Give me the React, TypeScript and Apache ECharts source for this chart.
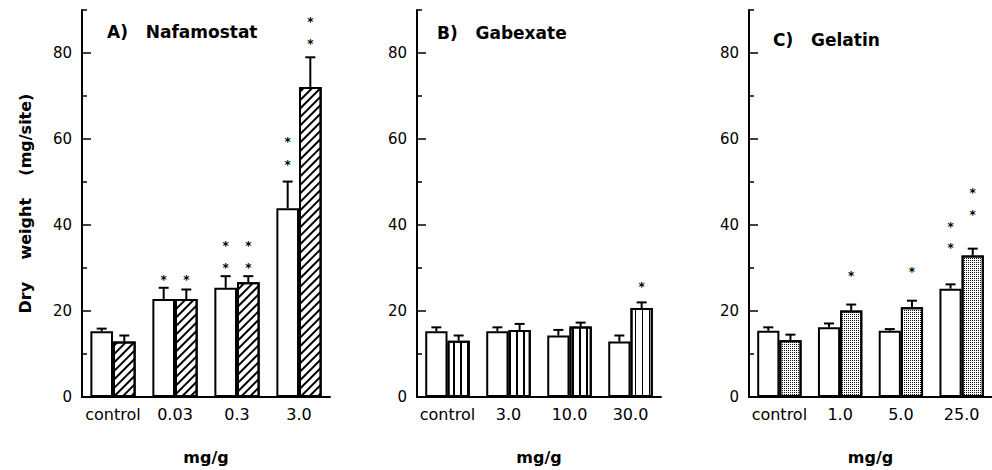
import React, { useEffect, useRef } from 'react';
import * as echarts from 'echarts';

// ---------- data ----------
const catsA = ['control', '0.03', '0.3', '3.0'];
const catsB = ['control', '3.0', '10.0', '30.0'];
const catsC = ['control', '1.0', '5.0', '25.0'];

const yTickValues = [0, 20, 40, 60, 80];
const yMinorTickValues = [10, 30, 50, 70, 90];

// A) Nafamostat
const nafaControl = [15.3, 22.8, 25.4, 43.9];
const nafaControlErr = [0.6, 2.6, 2.7, 6.2];
const nafaDrug = [12.9, 22.8, 26.7, 72.1];
const nafaDrugErr = [1.4, 2.2, 1.4, 6.9];
// [category index, bar index (0 = control, 1 = drug), value]
const nafaStars = [
  [1, 0, 27.8], [1, 1, 27.8],
  [2, 0, 35.9], [2, 0, 30.7], [2, 1, 35.9], [2, 1, 30.7],
  [3, 0, 60.0], [3, 0, 54.6], [3, 1, 88.0], [3, 1, 82.7],
];

// B) Gabexate
const gabeControl = [15.3, 15.3, 14.3, 12.9];
const gabeControlErr = [0.9, 0.9, 1.3, 1.4];
const gabeDrug = [13.1, 15.6, 16.4, 20.7];
const gabeDrugErr = [1.2, 1.4, 0.9, 1.3];
const gabeStars = [[3, 1, 26.3]];

// C) Gelatin
const gelaControl = [15.4, 16.2, 15.4, 25.2];
const gelaControlErr = [0.8, 0.9, 0.4, 1.0];
const gelaDrug = [13.2, 20.1, 20.9, 32.9];
const gelaDrugErr = [1.3, 1.4, 1.5, 1.6];
const gelaStars = [
  [1, 1, 28.9], [2, 1, 29.8],
  [3, 0, 40.3], [3, 0, 35.3], [3, 1, 48.2], [3, 1, 43.0],
];

const panelTitles = ['A)   Nafamostat', 'B)   Gabexate', 'C)   Gelatin'];
const xAxisTitle = 'mg/g';
const yAxisTitle = 'Dry    weight    (mg/site)';

// ---------- styling ----------
const FONT = 'DejaVu Sans';
const CAT_GAP = 0.27;

export default function App() {
  const ref = useRef<HTMLDivElement>(null);

  useEffect(() => {
    document.body.style.margin = '0';
    if (!ref.current) return;
    const chart = echarts.init(ref.current, undefined, { renderer: 'svg' });

    const grids = [
      { left: 82, top: 10, width: 248, height: 389.5 },
      { left: 417, top: 10, width: 244, height: 389.5 },
      { left: 749, top: 10, width: 248, height: 389.5 },
    ];

    const panels = [
      { cats: catsA, c: nafaControl, ce: nafaControlErr, d: nafaDrug, de: nafaDrugErr, stars: nafaStars,
        decal: { symbol: 'rect', symbolSize: 1, dashArrayX: [1, 0], dashArrayY: [1.3, 3.4], rotation: -Math.PI / 4, color: '#000', backgroundColor: '#fff' } },
      { cats: catsB, c: gabeControl, ce: gabeControlErr, d: gabeDrug, de: gabeDrugErr, stars: gabeStars,
        decal: { symbol: 'rect', symbolSize: 1, dashArrayX: [1, 0], dashArrayY: [1.5, 4.5], rotation: Math.PI / 2, color: '#000', backgroundColor: '#fff' } },
      { cats: catsC, c: gelaControl, ce: gelaControlErr, d: gelaDrug, de: gelaDrugErr, stars: gelaStars,
        decal: { symbol: 'rect', symbolSize: 1, dashArrayX: [1, 1], dashArrayY: [1, 1], color: '#111', backgroundColor: '#cfcfcf' } },
    ];

    const xAxes: any[] = [];
    const yAxes: any[] = [];
    const series: any[] = [];

    const errRender = (params: any, api: any) => {
      const cat = api.value(0);
      const side = api.value(1);
      const v = api.value(2);
      const e = api.value(3);
      const band = api.size([1, 0])[0];
      const bw = (band * (1 - CAT_GAP)) / 2;
      const base = api.coord([cat, v]);
      const x = base[0] + (side === 0 ? -bw / 2 : bw / 2);
      const top = api.coord([cat, v + e])[1];
      return {
        type: 'group',
        children: [
          { type: 'line', shape: { x1: x, y1: base[1], x2: x, y2: top }, style: { stroke: '#000', lineWidth: 2 } },
          { type: 'line', shape: { x1: x - 5, y1: top, x2: x + 5, y2: top }, style: { stroke: '#000', lineWidth: 2 } },
        ],
      };
    };

    const starRender = (params: any, api: any) => {
      const cat = api.value(0);
      const side = api.value(1);
      const v = api.value(2);
      const band = api.size([1, 0])[0];
      const bw = (band * (1 - CAT_GAP)) / 2;
      const p = api.coord([cat, v]);
      const x = p[0] + (side === 0 ? -bw / 2 : bw / 2);
      return {
        type: 'text',
        x,
        y: p[1] + 3,
        style: { text: '*', font: `bold 12px "${FONT}"`, textAlign: 'center', textVerticalAlign: 'middle', fill: '#000' },
      };
    };

    panels.forEach((p, i) => {
      xAxes.push({
        type: 'category',
        gridIndex: i,
        data: p.cats,
        axisLine: { lineStyle: { color: '#000', width: 2 } },
        axisTick: { inside: true, length: 4, lineStyle: { color: '#000', width: 1.5 } },
        axisLabel: { color: '#000', fontFamily: FONT, fontSize: 16, margin: 9, interval: 0 },
        name: xAxisTitle,
        nameLocation: 'middle',
        nameGap: 52,
        nameTextStyle: { fontFamily: FONT, fontWeight: 'bold', fontSize: 16, color: '#000' },
      });
      yAxes.push({
        type: 'value',
        gridIndex: i,
        min: 0,
        max: 90,
        interval: 10,
        axisLine: { show: true, lineStyle: { color: '#000', width: 2 } },
        axisTick: { show: true, inside: true, length: 9, customValues: yTickValues, lineStyle: { color: '#000', width: 1.5 } },
        axisLabel: { color: '#000', fontFamily: FONT, fontSize: 15, margin: 10, customValues: yTickValues },
        splitLine: { show: false },
        name: i === 0 ? yAxisTitle : '',
        nameLocation: 'middle',
        nameGap: 49,
        nameTextStyle: { fontFamily: FONT, fontWeight: 'bold', fontSize: 16, color: '#000' },
      });
      yAxes.push({
        type: 'value',
        gridIndex: i,
        min: 0,
        max: 90,
        interval: 10,
        position: 'left',
        axisLine: { show: false },
        axisTick: { show: true, inside: true, length: 5, customValues: yMinorTickValues, lineStyle: { color: '#000', width: 1.5 } },
        axisLabel: { show: false },
        splitLine: { show: false },
      });
      const yIdx = i * 2;
      series.push({
        type: 'bar',
        xAxisIndex: i,
        yAxisIndex: yIdx,
        data: p.c,
        barCategoryGap: `${CAT_GAP * 100}%`,
        barGap: '0%',
        itemStyle: { color: '#fff', borderColor: '#000', borderWidth: 2 },
        z: 2,
      });
      series.push({
        type: 'bar',
        xAxisIndex: i,
        yAxisIndex: yIdx,
        data: p.d,
        barCategoryGap: `${CAT_GAP * 100}%`,
        barGap: '0%',
        itemStyle: { color: '#fff', borderColor: '#000', borderWidth: 2, decal: p.decal },
        z: 2,
      });
      series.push({
        type: 'custom',
        xAxisIndex: i,
        yAxisIndex: yIdx,
        renderItem: errRender,
        encode: { x: 0, y: 2 },
        data: [
          ...p.c.map((v, k) => [k, 0, v, p.ce[k]]),
          ...p.d.map((v, k) => [k, 1, v, p.de[k]]),
        ],
        z: 3,
        silent: true,
      });
      series.push({
        type: 'custom',
        xAxisIndex: i,
        yAxisIndex: yIdx,
        renderItem: starRender,
        encode: { x: 0, y: 2 },
        data: p.stars,
        z: 3,
        silent: true,
      });
    });

    const titlePos = [
      { x: 107, y: 32 },
      { x: 437, y: 33 },
      { x: 773, y: 40 },
    ];

    chart.setOption({
      animation: false,
      backgroundColor: '#fff',
      grid: grids,
      xAxis: xAxes,
      yAxis: yAxes,
      series,
      graphic: panelTitles.map((t, i) => ({
        type: 'text',
        x: titlePos[i].x,
        y: titlePos[i].y,
        style: { text: t, font: `bold 17px "${FONT}"`, fill: '#000', textVerticalAlign: 'middle' },
      })),
    });

    return () => chart.dispose();
  }, []);

  return <div ref={ref} style={{ width: 992, height: 470 }} />;
}
